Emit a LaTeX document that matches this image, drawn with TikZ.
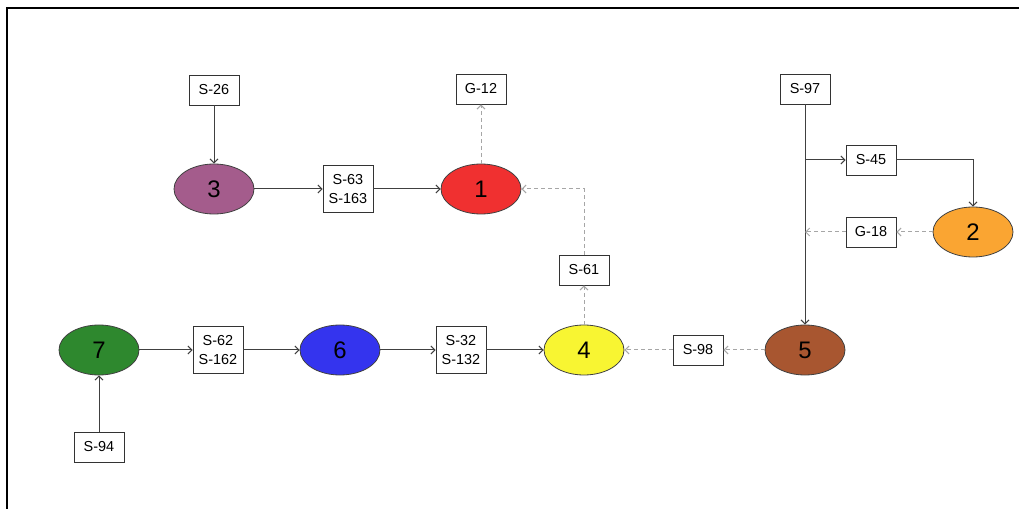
\documentclass[tikz,border=0pt]{standalone}
\usepackage{fontspec}
\setmainfont{Liberation Sans}
\usetikzlibrary{arrows.meta}
\definecolor{ctrois}{RGB}{164,92,140}
\definecolor{cun}{RGB}{240,48,48}
\definecolor{cdeux}{RGB}{250,165,50}
\definecolor{cquatre}{RGB}{248,245,50}
\definecolor{ccinq}{RGB}{168,86,48}
\definecolor{csix}{RGB}{52,52,238}
\definecolor{csept}{RGB}{46,136,46}
\tikzset{
	stream/.style={draw=black!80, fill=white, line width=0.8bp, minimum width=50bp, minimum height=30bp, inner sep=0pt, align=center, font=\fontsize{14.5}{19}\selectfont},
	unit/.style={ellipse, draw=black!75, line width=0.8bp, minimum width=80bp, minimum height=50bp, inner sep=0pt, font=\fontsize{24}{24}\selectfont},
	flow/.style={draw=black!75, line width=1bp, -{Straight Barb[length=4bp,width=8bp]}},
	back/.style={draw=black!35, line width=1bp, dash pattern=on 4bp off 3bp, -{Straight Barb[length=4bp,width=8bp]}}
}
\usetikzlibrary{shapes.geometric}
\begin{document}
\begin{tikzpicture}[x=1bp, y=-1bp]
			%%%%% START %%%%%
			\useasboundingbox (0, 0) rectangle (1019, 509);
			\draw[line width=2bp] (7, 509) -- (7, 8) -- (1019, 8);
			
			% upper row
			\node[stream] (s26) at (214, 90) {S-26};
			\node[unit, fill=ctrois] (n3) at (214, 189) {3};
			\node[stream, minimum height=47bp] (s63) at (348, 189) {S-63\\S-163};
			\node[unit, fill=cun] (n1) at (481, 189) {1};
			\node[stream] (g12) at (481, 89) {G-12};
			\node[stream] (s61) at (584, 270) {S-61};
			
			% lower row
			\node[unit, fill=csept] (n7) at (99, 350) {7};
			\node[stream] (s94) at (99, 447) {S-94};
			\node[stream, minimum height=47bp] (s62) at (218, 350) {S-62\\S-162};
			\node[unit, fill=csix] (n6) at (340, 350) {6};
			\node[stream, minimum height=47bp] (s32) at (461, 350) {S-32\\S-132};
			\node[unit, fill=cquatre] (n4) at (584, 350) {4};
			\node[stream] (s98) at (698, 350) {S-98};
			\node[unit, fill=ccinq] (n5) at (805, 350) {5};
			
			% right part
			\node[stream] (s97) at (805, 89) {S-97};
			\node[stream] (s45) at (871, 160) {S-45};
			\node[stream] (g18) at (871, 232) {G-18};
			\node[unit, fill=cdeux] (n2) at (973, 232) {2};
			\coordinate (split) at (805, 160);
			\coordinate (merge) at (805, 232);
			
			\draw[flow] (s26) -- (n3);
			\draw[flow] (n3) -- (s63);
			\draw[flow] (s63) -- (n1);
			\draw[back] (n1) -- (g12);
			\draw[back] (n4) -- (s61);
			\draw[back] (s61.north) |- (n1.east);
			
			\draw[flow] (s94) -- (n7);
			\draw[flow] (n7) -- (s62);
			\draw[flow] (s62) -- (n6);
			\draw[flow] (n6) -- (s32);
			\draw[flow] (s32) -- (n4);
			\draw[back] (n5) -- (s98);
			\draw[back] (s98) -- (n4);
			
			\draw[flow] (s97) -- (n5);
			\draw[flow] (split) -- (s45);
			\draw[flow] (s45) -| (n2);
			\draw[back] (n2) -- (g18);
			\draw[back] (g18) -- (merge);
			%%%%% END %%%%%
\end{tikzpicture}
\end{document}
